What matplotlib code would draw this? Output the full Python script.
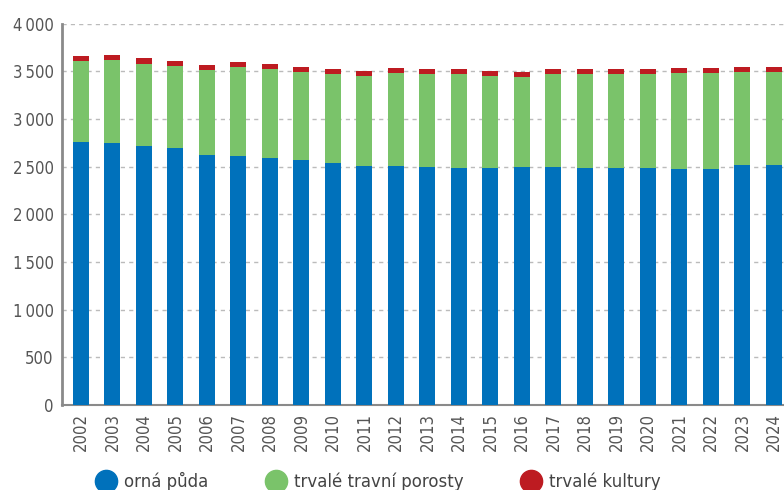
import matplotlib
matplotlib.use("Agg")
import matplotlib.pyplot as plt
from matplotlib.lines import Line2D
import numpy as np

years = [str(y) for y in range(2002, 2025)]
orna = [2756, 2744, 2714, 2693, 2620, 2609, 2588, 2567, 2536, 2504, 2504, 2494,
        2483, 2483, 2494, 2494, 2483, 2483, 2483, 2473, 2473, 2515, 2515]
travni = [848, 871, 859, 859, 890, 932, 932, 922, 932, 943, 974, 974,
          985, 964, 942, 974, 985, 985, 985, 1005, 1005, 974, 974]
kultury = [53, 52, 63, 52, 52, 53, 53, 52, 52, 52, 53, 52,
           52, 52, 53, 52, 52, 52, 52, 53, 53, 52, 52]
labels = ["orná půda", "trvalé travní porosty", "trvalé kultury"]
colors = ["#0071BB", "#7AC36A", "#BD1B21"]

plt.rcParams['font.family'] = ['DejaVu Sans']
txt = "#555555"

fig = plt.figure(figsize=(7.84, 4.9), dpi=100)
ax = fig.add_axes([62/784, 1 - 405/490, 722/784, (405 - 23.7)/490])

x = np.arange(len(years))
w = 0.51
ax.bar(x, orna, w, color=colors[0], zorder=3)
ax.bar(x, travni, w, bottom=orna, color=colors[1], zorder=3)
ax.bar(x, kultury, w, bottom=np.array(orna) + np.array(travni), color=colors[2], zorder=3)

ax.set_xlim(-0.6, len(years) - 1 + 0.32)
ax.set_ylim(0, 4000)
ax.set_yticks(range(0, 4001, 500))
ax.set_yticklabels([f"{v:,}".replace(",", "\u2009") for v in range(0, 4001, 500)])
ax.set_xticks(x)
ax.set_xticklabels(years, rotation=90)
ax.tick_params(length=0, labelsize=12, colors=txt, pad=6)
for t in ax.get_xticklabels() + ax.get_yticklabels():
    t.set_fontstretch('condensed')

ax.grid(axis='y', linestyle=(0, (3, 3)), color="#bbbbbb", linewidth=1, zorder=0)
ax.set_axisbelow(True)
for s in ['top', 'right']:
    ax.spines[s].set_visible(False)
ax.spines['left'].set_color("#8a8a8a")
ax.spines['left'].set_linewidth(2)
ax.spines['bottom'].set_color("#8a8a8a")
ax.spines['bottom'].set_linewidth(1.5)

# legend below the plot
handles = [Line2D([], [], marker='o', linestyle='', markersize=16, color=c) for c in colors]
fig.legend(handles, labels, loc='center left', bbox_to_anchor=(81/784, 1 - 481/490),
           ncol=3, frameon=False, fontsize=12, labelcolor="#444444",
           handletextpad=0.48, columnspacing=3.45, handlelength=1.2)

fig.savefig("out.png", dpi=100)
